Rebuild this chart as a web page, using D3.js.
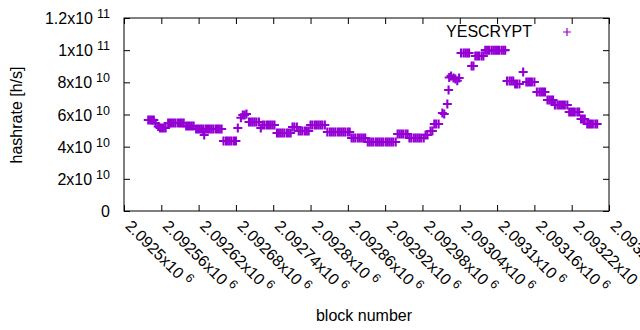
<!doctype html>
<html lang="en">
<head>
<meta charset="utf-8">
<title>YESCRYPT hashrate</title>
<script src="https://d3js.org/d3.v7.min.js"></script>
<style>
  body { margin: 0; background: #fff; }
  svg text { font-family: "Liberation Sans", Arial, sans-serif; fill: #000; }
</style>
</head>
<body>
<svg id="chart" width="640" height="330"></svg>
<script>
// block numbers
var blocks = [
  2092539, 2092542, 2092545, 2092548, 2092551, 2092555,
  2092558, 2092561, 2092564, 2092567,
  2092571, 2092574, 2092577, 2092580, 2092583, 2092587, 2092590, 2092593, 2092596,
  2092600, 2092603, 2092606, 2092609, 2092612,
  2092616, 2092619, 2092622, 2092625, 2092628, 2092629, 2092627,
  2092632, 2092635, 2092638, 2092641, 2092644, 2092648, 2092651, 2092654, 2092657,
  2092660, 2092664, 2092667, 2092670, 2092673, 2092677, 2092680,
  2092683, 2092688, 2092691, 2092694, 2092697,
  2092701, 2092704, 2092707, 2092710, 2092713, 2092717,
  2092720,
  2092723, 2092726, 2092730, 2092733, 2092736, 2092739, 2092742,
  2092746, 2092749, 2092752, 2092755, 2092758, 2092762, 2092765, 2092768,
  2092771, 2092774, 2092778,
  2092781, 2092784, 2092787, 2092791, 2092794, 2092797,
  2092800, 2092803, 2092807, 2092810, 2092813, 2092816, 2092819, 2092823,
  2092827, 2092831, 2092834, 2092837, 2092840, 2092844, 2092847, 2092850, 2092853, 2092856, 2092860, 2092863,
  2092866, 2092869, 2092872, 2092876, 2092879, 2092882, 2092885, 2092888,
  2092892, 2092895, 2092898, 2092901, 2092905, 2092908, 2092911, 2092914, 2092917, 2092921, 2092924, 2092927, 2092930, 2092933, 2092937,
  2092940, 2092943, 2092946, 2092949, 2092953, 2092956,
  2092959, 2092962, 2092966, 2092969, 2092972, 2092975, 2092978, 2092982,
  2092985, 2092988, 2092993, 2092996,
  2092999, 2093002, 2093006,
  2093012, 2093015, 2093020, 2093022,
  2093023, 2093026, 2093030, 2093033, 2093036, 2093039,
  2093042, 2093046, 2093049, 2093052, 2093055,
  2093059, 2093062,
  2093065, 2093068, 2093071, 2093075, 2093078,
  2093081, 2093084, 2093087, 2093091, 2093094, 2093097, 2093100, 2093103, 2093107, 2093110, 2093113,
  2093116, 2093120, 2093123, 2093126,
  2093129, 2093132, 2093136,
  2093142,
  2093147, 2093150, 2093153, 2093156, 2093160,
  2093164, 2093168, 2093171, 2093174, 2093177,
  2093181, 2093184, 2093187, 2093190,
  2093193, 2093197, 2093200, 2093203, 2093206, 2093209, 2093213,
  2093216, 2093219, 2093222, 2093225, 2093229, 2093232,
  2093235, 2093238, 2093241,
  2093245, 2093248, 2093251, 2093254, 2093258, 2093261
];

// hashrate in units of 1e10 h/s, same order as blocks
var hashrate = [
  5.66, 5.66, 5.66, 5.66, 5.45, 5.25,
  5.16, 5.16, 5.16, 5.16,
  5.47, 5.47, 5.47, 5.47, 5.47, 5.47, 5.47, 5.47, 5.47,
  5.28, 5.28, 5.28, 5.28, 5.28,
  5.10, 5.10, 5.10, 5.10, 5.10, 4.73, 4.95,
  5.10, 5.10, 5.10, 5.10, 5.10, 5.10, 5.10, 5.10, 5.10,
  4.35, 4.35, 4.35, 4.35, 4.35, 4.35, 4.35,
  5.16, 5.80, 5.97, 5.97, 6.03,
  5.53, 5.53, 5.53, 5.53, 5.53, 5.53,
  5.16,
  5.35, 5.35, 5.35, 5.35, 5.35, 5.35, 5.35,
  4.85, 4.85, 4.85, 4.85, 4.85, 4.85, 4.85, 4.85,
  5.22, 5.22, 5.22,
  4.97, 4.97, 4.97, 4.97, 4.97, 4.97,
  5.35, 5.35, 5.35, 5.35, 5.35, 5.35, 5.35, 5.35,
  4.91, 4.91, 4.91, 4.91, 4.91, 4.91, 4.91, 4.91, 4.91, 4.91, 4.91, 4.91,
  4.54, 4.54, 4.54, 4.54, 4.54, 4.54, 4.54, 4.54,
  4.29, 4.29, 4.29, 4.29, 4.29, 4.29, 4.29, 4.29, 4.29, 4.29, 4.29, 4.29, 4.29, 4.29, 4.29,
  4.79, 4.79, 4.79, 4.79, 4.79, 4.79,
  4.54, 4.54, 4.54, 4.54, 4.54, 4.54, 4.54, 4.54,
  4.73, 4.73, 4.97, 4.97,
  5.41, 5.41, 5.41,
  6.09, 6.03, 6.65, 7.52,
  8.30, 8.40, 8.27, 8.20, 8.10, 8.27,
  9.82, 9.82, 9.82, 9.82, 9.82,
  9.02, 9.02,
  9.64, 9.64, 9.64, 9.64, 9.64,
  10.0, 10.0, 10.0, 10.0, 10.0, 10.0, 10.0, 10.0, 10.0, 10.0, 10.0,
  8.08, 8.08, 8.08, 8.08,
  7.90, 7.90, 7.90,
  8.64,
  8.02, 8.02, 8.02, 8.02, 8.02,
  7.40, 7.40, 7.40, 7.40, 7.40,
  6.90, 6.90, 6.90, 6.90,
  6.59, 6.59, 6.59, 6.59, 6.59, 6.59, 6.59,
  6.16, 6.16, 6.16, 6.16, 6.16, 6.16,
  5.72, 5.72, 5.72,
  5.41, 5.41, 5.41, 5.41, 5.41, 5.41
];

var xTicks = [2092500, 2092560, 2092620, 2092680, 2092740, 2092800, 2092860,
              2092920, 2092980, 2093040, 2093100, 2093160, 2093220, 2093280];
var xTickText = ["2.0925", "2.09256", "2.09262", "2.09268", "2.09274", "2.0928", "2.09286",
                 "2.09292", "2.09298", "2.09304", "2.0931", "2.09316", "2.09322", "2.09328"];
var xTickExp = "6";

var yTicks = [0, 2e10, 4e10, 6e10, 8e10, 1e11, 1.2e11];
var yTickText = ["0", "2", "4", "6", "8", "1", "1.2"];
var yTickExp = ["", "10", "10", "10", "10", "11", "11"];

var seriesName = "YESCRYPT";
var color = "#9400d3";

var plotL = 124, plotR = 609, plotT = 18, plotB = 211;
var fontSize = "16px";
var svg = d3.select("#chart");

var x = d3.scaleLinear().domain([xTicks[0], xTicks[xTicks.length - 1]]).range([plotL, plotR]);
var y = d3.scaleLinear().domain([0, 1.2e11]).range([plotB, plotT]);

// border
svg.append("rect")
  .attr("x", plotL).attr("y", plotT)
  .attr("width", plotR - plotL).attr("height", plotB - plotT)
  .attr("fill", "none").attr("stroke", "#000").attr("stroke-width", 1);

function labelWithExp(sel, mant, exp) {
  sel.text(null);
  if (exp === "") { sel.append("tspan").text(mant); return; }
  sel.append("tspan").text(mant + "x10");
  sel.append("tspan").attr("dx", 4).attr("dy", -6).attr("font-size", "12.5px").text(exp);
}

// y axis, ticks point inwards
var yAxis = svg.append("g")
  .attr("transform", "translate(" + plotL + ",0)")
  .call(d3.axisLeft(y).tickValues(yTicks).tickSizeInner(-6).tickSizeOuter(0).tickPadding(14));
yAxis.select(".domain").remove();
yAxis.selectAll("text")
  .attr("font-size", fontSize)
  .attr("dy", "0.35em")
  .each(function(d, i) { labelWithExp(d3.select(this), yTickText[i], yTickExp[i]); });

svg.append("g")
  .attr("transform", "translate(" + plotR + ",0)")
  .call(d3.axisRight(y).tickValues(yTicks).tickSizeInner(-6).tickSizeOuter(0).tickFormat(""))
  .select(".domain").remove();

// x axis with rotated labels
var xAxis = svg.append("g")
  .attr("transform", "translate(0," + plotB + ")")
  .call(d3.axisBottom(x).tickValues(xTicks).tickSizeInner(-6).tickSizeOuter(0));
xAxis.select(".domain").remove();
xAxis.selectAll("text")
  .attr("font-size", fontSize)
  .attr("x", 0).attr("y", 0).attr("dy", 0)
  .attr("text-anchor", "start")
  .attr("transform", "translate(0,16) rotate(45)")
  .each(function(d, i) { labelWithExp(d3.select(this), xTickText[i], xTickExp); });

svg.append("g")
  .attr("transform", "translate(0," + plotT + ")")
  .call(d3.axisTop(x).tickValues(xTicks).tickSizeInner(-6).tickSizeOuter(0).tickFormat(""))
  .select(".domain").remove();

svg.selectAll(".tick line").attr("stroke", "#000");

// axis titles
svg.append("text")
  .attr("transform", "translate(22,115) rotate(-90)")
  .attr("text-anchor", "middle")
  .attr("font-size", fontSize)
  .text("hashrate [h/s]");

svg.append("text")
  .attr("x", 364).attr("y", 321)
  .attr("text-anchor", "middle")
  .attr("font-size", fontSize)
  .text("block number");

// points
var cross = "M-4.5,0H4.5M0,-4.5V4.5";
svg.append("g")
  .selectAll("path")
  .data(blocks)
  .enter()
  .append("path")
  .attr("d", cross)
  .attr("transform", function(d, i) {
    return "translate(" + x(d) + "," + y(hashrate[i] * 1e10) + ")";
  })
  .attr("stroke", color)
  .attr("stroke-width", 2.1)
  .attr("fill", "none");

// legend
svg.append("text")
  .attr("x", 532).attr("y", 37)
  .attr("text-anchor", "end")
  .attr("font-size", fontSize)
  .text(seriesName);
svg.append("path")
  .attr("d", "M-4,0H4M0,-4V4")
  .attr("transform", "translate(567,32)")
  .attr("stroke", color)
  .attr("stroke-width", 1.2)
  .attr("fill", "none");
</script>
</body>
</html>
